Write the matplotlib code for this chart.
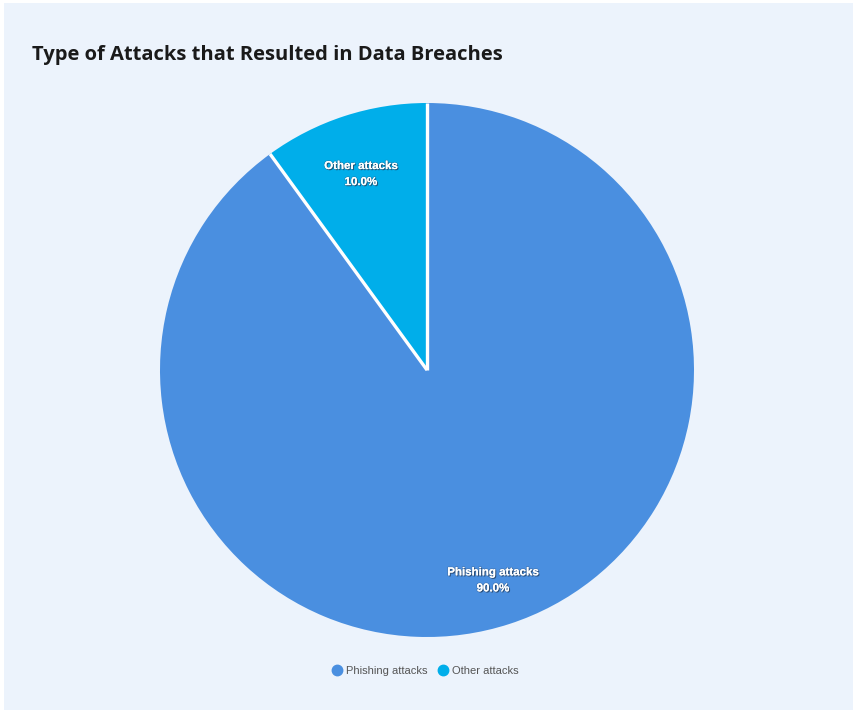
import matplotlib
matplotlib.use("Agg")
import numpy as np
import matplotlib.pyplot as plt
import matplotlib.patheffects as pe
from matplotlib.patches import Rectangle
from matplotlib.lines import Line2D

categories = ["Phishing attacks", "Other attacks"]
values = [90.0, 10.0]
colors = ["#4a8fe0", "#00aeea"]
title = "Type of Attacks that Resulted in Data Breaches"

W, H = 854, 710
fig = plt.figure(figsize=(W / 100, H / 100), dpi=100, facecolor="white")
fig.patches.append(Rectangle((4 / W, 0), 1, 1 - 3 / H, transform=fig.transFigure,
                             facecolor="#ecf3fc", edgecolor="none", zorder=-10))

cx, cy, r = 427, 370, 267
ax = fig.add_axes([(cx - r) / W, (H - cy - r) / H, 2 * r / W, 2 * r / H])
ax.set_facecolor("none")

def fmt(labels):
    it = iter(labels)
    return lambda p: f"{next(it)}\n{p:.1f}%"

wedges, texts, autotexts = ax.pie(
    values, colors=colors, startangle=90, counterclock=False,
    autopct=fmt(categories), pctdistance=0.80, radius=1,
    wedgeprops=dict(linewidth=0),
)
# white separators along slice boundaries
for w in wedges:
    a = np.deg2rad(w.theta1)
    ax.plot([0, np.cos(a)], [0, np.sin(a)], color="white", linewidth=2.4,
            solid_capstyle="butt", zorder=3)
for t in autotexts:
    x, y = t.get_position()
    t.set_position((x, y - 0.027))
    t.set_color("white")
    t.set_fontsize(8.3)
    t.set_fontweight("bold")
    t.set_family("Liberation Sans")
    t.set_linespacing(1.45)
    t.set_zorder(5)
    t.set_path_effects([pe.SimplePatchShadow(offset=(0.8, -0.8), shadow_rgbFace="#1f3550", alpha=0.7),
                        pe.withStroke(linewidth=1.2, foreground="#3a5575", alpha=0.35), pe.Normal()])
ax.set_xlim(-1, 1)
ax.set_ylim(-1, 1)
ax.set_aspect("equal")
ax.axis("off")

fig.text(32 / W, 1 - 55 / H, title, fontsize=14.5, fontweight="bold",
         family="Open Sans", color="#1a1a1a", va="center", ha="left")

handles = [Line2D([], [], marker="o", linestyle="none", markersize=7.5,
                  markerfacecolor=c, markeredgecolor=c) for c in colors]
fig.legend(handles, categories, loc="center", bbox_to_anchor=(425 / W, 1 - 671 / H),
           ncol=2, frameon=False, handletextpad=0.3, columnspacing=0.9,
           prop={"family": "Liberation Sans", "size": 8}, labelcolor="#555555",
           handlelength=1.0)

fig.savefig("out.png", dpi=100, facecolor=fig.get_facecolor())
